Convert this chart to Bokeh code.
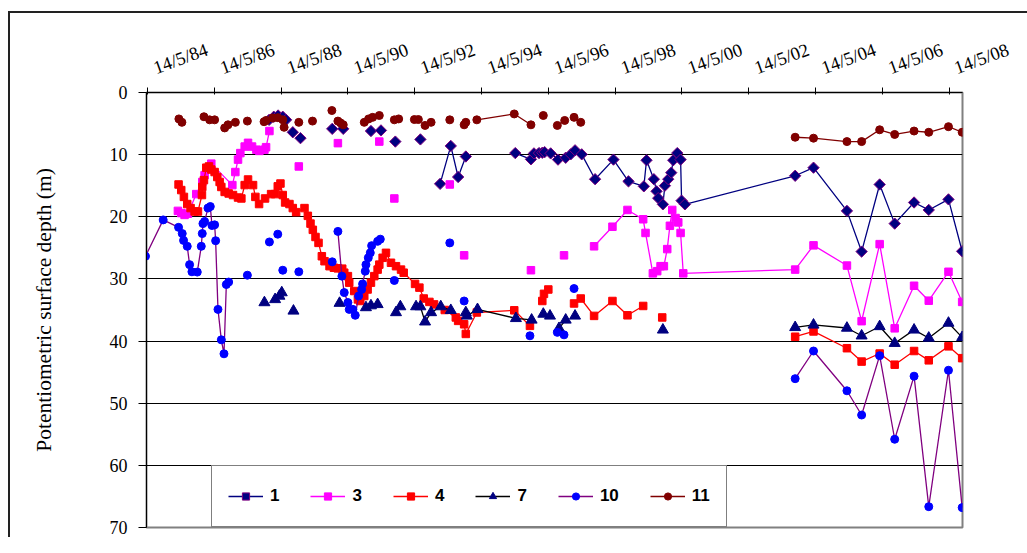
from bokeh.plotting import figure
from bokeh.models import Range1d, FixedTicker, Legend, LegendItem, LinearAxis
from bokeh.embed import file_html
from bokeh.resources import INLINE

NaN = float("nan")

# x values are decimal years; tick labels are the 14 May of even years
tick_years = [1984, 1986, 1988, 1990, 1992, 1994, 1996, 1998, 2000, 2002, 2004, 2006, 2008]
tick_labels = ["14/5/84", "14/5/86", "14/5/88", "14/5/90", "14/5/92", "14/5/94", "14/5/96",
               "14/5/98", "14/5/00", "14/5/02", "14/5/04", "14/5/06", "14/5/08"]
day_offset = 0.367  # 14 May as fraction of year

y_ticks = [0, 10, 20, 30, 40, 50, 60, 70]

late_dates = [2003.76, 2004.31, 2005.31, 2005.75, 2006.29, 2006.74, 2007.32, 2007.76, 2008.35, 2008.76]

# ---- series 1 ----
s1_x = [1988.01, 1988.15, 1988.28, 1988.42, 1988.52, NaN, 1988.72, NaN, 1988.95, NaN, 1989.90, NaN,
        1990.23, NaN, 1991.06, NaN, 1991.36, NaN, 1991.79, NaN, 1992.54, NaN,
        1993.13, 1993.45, 1993.67, 1993.90, NaN,
        1995.38, 1995.85, 1995.94, 1996.09, 1996.19, 1996.26, 1996.44, 1996.66, 1996.89, 1997.04,
        1997.17, 1997.37, 1997.77, 1998.32, 1998.77, 1999.23, 1999.31, 1999.53, 1999.61, 1999.66,
        1999.80, 1999.86, 1999.96, 2000.05, 2000.11, 2000.23, 2000.33, 2000.36, 2000.46] + late_dates
s1_y = [4.4, 3.9, 3.7, 3.9, 4.4, NaN, 6.4, NaN, 7.35, NaN, 5.85, NaN,
        5.85, NaN, 6.2, NaN, 6.1, NaN, 7.9, NaN, 7.55, NaN,
        14.7, 8.6, 13.6, 10.3, NaN,
        9.75, 10.75, 9.8, 9.75, 9.7, 9.6, 9.8, 10.8, 10.5, 9.95,
        9.3, 9.95, 13.95, 10.8, 14.3, 15.1, 10.9, 13.95, 15.9, 17.0,
        18.0, 15.0, 13.95, 12.9, 10.9, 9.75, 10.8, 17.4, 18.0] + \
       [13.4, 12.1, 19.05, 25.6, 14.8, 21.1, 17.7, 18.9, 17.2, 25.55]

# ---- series 3 ----
s3_x = [1985.28, 1985.38, 1985.48, 1985.58, 1985.83, 1986.01, 1986.08, 1986.16, 1986.28, 1986.91,
        1987.00, 1987.08, 1987.15, 1987.28, 1987.38, 1987.50, 1987.63, 1987.72, 1987.87, 1987.92,
        1988.02, NaN, 1988.90, NaN, 1990.07, NaN, 1991.31, NaN, 1991.76, NaN, 1993.42, NaN,
        1993.85, NaN, 1995.85, NaN, 1996.84, NaN,
        1997.74, 1998.29, 1998.74, 1999.21, 1999.28, 1999.50, 1999.63, 1999.73, 1999.83, 1999.93,
        2000.01, 2000.08, 2000.18, 2000.26, 2000.33, 2000.41] + late_dates
s3_y = [19.05, 19.4, 19.7, 19.5, 16.35, 14.4, 13.3, 12.25, 11.45, 14.9,
        12.8, 10.8, 9.75, 8.7, 8.1, 8.7, 9.2, 9.4, 9.2, 8.8,
        6.2, NaN, 11.9, NaN, 8.15, NaN, 7.9, NaN, 17.05, NaN, 14.8, NaN,
        26.2, NaN, 28.6, NaN, 26.2, NaN,
        24.75, 21.6, 18.9, 20.4, 22.6, 29.1, 28.75, 27.95, 27.95, 25.2,
        21.45, 18.9, 20.2, 20.9, 22.6, 29.1] + \
       [28.5, 24.6, 27.85, 36.8, 24.4, 37.95, 31.1, 33.5, 28.85, 33.7]

# ---- series 4 ----
s4_x = [1985.30, 1985.38, 1985.46, 1985.56, 1985.66, 1985.78, 1985.88, 1986.00, 1986.01, 1986.06,
        1986.13, 1986.21, 1986.28, 1986.38, 1986.46, 1986.53, 1986.58, 1986.68, 1986.80, 1986.93,
        1987.08, 1987.18, 1987.28, 1987.38, 1987.53, 1987.60, 1987.71, 1987.89, 1988.07, 1988.19,
        1988.27, 1988.35, 1988.42, 1988.49, 1988.62, 1988.72, 1988.82, 1989.07, 1989.17, 1989.25,
        1989.32, 1989.40, 1989.49, 1989.59, 1989.67, 1989.82, 1989.95, 1990.07, 1990.20, 1990.26,
        1990.37, 1990.41, 1990.56, 1990.67, 1990.74, 1990.86, 1990.96, 1991.06, 1991.16, 1991.26,
        1991.31, 1991.41, 1991.51, 1991.66, 1991.81, 1991.96, 1992.04, 1992.38, 1992.51, 1992.64,
        1992.81, 1992.95, 1993.27, 1993.60, 1993.67, 1993.85, 1993.90, 1994.23, 1995.35, 1995.82,
        NaN, 1996.19, 1996.24, 1996.37, NaN,
        1997.14, 1997.34, 1997.74, 1998.29, 1998.74, 1999.21, NaN, 1999.78, NaN] + late_dates
s4_y = [14.8, 15.7, 16.8, 17.95, 18.6, 19.15, 19.15, 16.5, 15.2, 14.1,
        12.1, 11.9, 12.4, 12.8, 13.6, 14.4, 15.2, 16.0, 16.25, 16.5,
        16.9, 17.05, 14.9, 14.0, 14.9, 16.8, 17.95, 17.05, 16.35, 16.35,
        15.1, 14.65, 16.5, 17.7, 17.95, 18.6, 19.25, 18.6, 19.85, 21.1,
        22.1, 23.25, 24.2, 26.35, 27.15, 27.95, 28.2, 28.3, 28.35, 29.0,
        29.55, 30.6, 31.95, 33.3, 33.55, 32.75, 31.7, 30.6, 29.55, 28.5,
        27.7, 26.6, 25.8, 27.4, 27.95, 28.5, 29.0, 30.8, 31.4, 33.15,
        33.7, 34.1, 35.0, 36.2, 36.75, 37.3, 38.85, 35.4, 35.05, 37.55,
        NaN, 33.55, 32.4, 31.7, NaN,
        33.95, 33.15, 35.95, 33.55, 35.85, 34.35, NaN, 36.2, NaN] + \
       [39.3, 38.45, 41.15, 43.3, 42.0, 43.8, 41.6, 43.1, 40.85, 42.75]

# ---- series 7 ----
s7_x = [1987.87, NaN, 1988.19, 1988.32, 1988.39, NaN, 1988.74, NaN, 1990.12, NaN,
        1990.91, 1991.06, 1991.26, NaN, 1991.81, 1991.94, NaN,
        1992.41, 1992.54, 1992.68, 1992.86, 1993.15, 1993.45, NaN,
        1993.90, 1993.93, 1994.25, 1995.40, 1995.87, NaN, 1996.22, 1996.42, NaN,
        1996.69, 1996.89, NaN, 1997.17, NaN, 1999.80, NaN] + late_dates
s7_y = [33.8, NaN, 33.3, 32.75, 32.2, NaN, 35.15, NaN, 33.9, NaN,
        34.6, 34.3, 34.1, NaN, 35.4, 34.45, NaN,
        34.45, 34.45, 36.9, 35.4, 34.45, 35.05, NaN,
        35.4, 35.95, 34.9, 36.35, 36.6, NaN, 35.65, 35.95, NaN,
        37.95, 36.6, NaN, 35.95, NaN, 38.2, NaN] + \
       [37.8, 37.4, 37.9, 39.15, 37.65, 40.35, 38.2, 39.5, 37.1, 39.4]

# ---- series 10 ----
s10_x = [1984.31, 1984.84, 1985.30, 1985.41, 1985.45, 1985.56, 1985.63, 1985.70, 1985.86, 1985.98,
         1986.01, 1986.03, 1986.08, 1986.18, 1986.25, 1986.30, 1986.38, 1986.41, 1986.48, 1986.58,
         1986.66, 1986.73, 1986.80, NaN, 1987.36, NaN, 1988.02, NaN, 1988.27, NaN, 1988.42, NaN,
         1988.90, NaN, 1989.90, NaN,
         1990.07, 1990.19, 1990.26, 1990.37, 1990.41, 1990.52, 1990.59, 1990.69, 1990.78, 1990.81,
         1990.89, 1990.91, 1990.98, 1991.04, 1991.08, 1991.26, 1991.34, NaN,
         1991.76, NaN, 1993.42, NaN, 1993.85, NaN, 1995.82, NaN, 1996.64, 1996.84, NaN,
         1997.14, NaN] + late_dates
s10_y = [26.35, 20.5, 21.7, 22.7, 23.8, 24.75, 27.7, 28.85, 28.9, 24.75,
         22.7, 21.1, 20.75, 18.6, 18.35, 21.4, 21.3, 23.85, 34.9, 39.8,
         42.05, 30.9, 30.5, NaN, 29.4, NaN, 24.05, NaN, 22.8, NaN, 28.6, NaN,
         28.85, NaN, 27.25, NaN,
         22.35, 29.55, 32.2, 33.8, 34.9, 34.9, 35.85, 32.75, 31.7, 30.8,
         28.75, 27.7, 26.6, 25.8, 24.65, 23.95, 23.6, NaN,
         30.25, NaN, 24.2, NaN, 33.55, NaN, 39.15, NaN, 38.6, 39.0, NaN,
         31.55, NaN] + \
        [46.05, 41.6, 48.0, 51.9, 42.35, 55.8, 45.65, 66.65, 44.7, 66.8]

# ---- series 11 ----
s11_x = [1985.31, 1985.40, NaN, 1986.06, NaN, 1986.23, 1986.38, NaN, 1986.68, 1986.78, NaN,
         1987.00, NaN, 1987.36, NaN, 1987.86, 1987.92, NaN, 1988.12, 1988.27, 1988.42, NaN,
         1988.46, NaN, 1988.90, NaN, 1989.31, NaN, 1989.89, NaN, 1990.07, 1990.15, 1990.23, NaN,
         1990.86, 1990.99, 1991.11, 1991.31, NaN, 1991.76, 1991.89, NaN, 1992.36, 1992.48, NaN,
         1992.68, 1992.86, NaN, 1993.42, NaN, 1993.85, 1993.90, NaN, 1994.23, 1995.35, 1995.85, NaN,
         1996.22, NaN, 1996.64, 1996.86, NaN, 1997.14, 1997.34, NaN] + late_dates
s11_y = [4.25, 4.8, NaN, 3.9, NaN, 4.4, 4.4, NaN, 5.7, 5.2, NaN,
         4.8, NaN, 4.6, NaN, 4.7, 4.5, NaN, 4.1, 4.05, 4.4, NaN,
         5.6, NaN, 4.8, NaN, 4.6, NaN, 2.9, NaN, 4.6, 4.9, 5.2, NaN,
         4.8, 4.25, 4.0, 3.7, NaN, 4.4, 4.25, NaN, 4.35, 4.35, NaN,
         5.3, 4.8, NaN, 4.4, NaN, 5.2, 4.8, NaN, 4.4, 3.45, 5.2, NaN,
         3.7, NaN, 5.3, 4.5, NaN, 4.0, 4.8, NaN] + \
        [7.2, 7.35, 7.9, 7.9, 6.0, 6.75, 6.2, 6.4, 5.5, 6.4]

tick_pos = [y + day_offset for y in tick_years]
label_shift = 0.2  # labels start slightly right of their tick
label_pos = [t + label_shift for t in tick_pos]

SERIF = "'Liberation Serif', 'Times New Roman', serif"
W, H = 1011, 537

p = figure(width=W, height=H, output_backend="svg", toolbar_location=None,
           x_axis_location="above",
           x_range=Range1d(1984.34, 2008.77), y_range=Range1d(70, 0),
           min_border_left=146, min_border_right=49, min_border_top=92, min_border_bottom=10)

# outer chart-area border: thin dark line along top and left (inset shadows behind a
# transparent canvas border), plus its continuation past the right edge of the figure
p.styles = {"box-shadow": ("inset 8px 11px 0 0 #ffffff, inset 10px 13px 0 0 #222222, "
                           "284px -256.5px 0 -267.5px #222222"),
            "background-color": "#ffffff"}

p.background_fill_color = "white"
p.border_fill_color = None
p.outline_line_color = "#808080"
p.outline_line_width = 2

p.xgrid.visible = False
p.ygrid.grid_line_color = "black"
p.ygrid.grid_line_width = 1

# tick marks axis (no labels)
xa = p.xaxis[0]
xa.ticker = FixedTicker(ticks=tick_pos)
xa.major_label_overrides = {t: "" for t in tick_pos}
xa.major_tick_out = 5
xa.major_tick_in = 2
xa.minor_tick_line_color = None
xa.axis_line_color = "black"
xa.major_tick_line_color = "black"
xa.major_label_standoff = 0

# label axis stacked above it
xl = LinearAxis(ticker=FixedTicker(ticks=label_pos),
                major_label_overrides=dict(zip(label_pos, tick_labels)),
                major_label_orientation=0.35,
                major_label_text_font=SERIF, major_label_text_font_size="18.5px",
                major_label_text_color="black", major_label_standoff=19,
                axis_line_color=None, major_tick_line_color=None, minor_tick_line_color=None,
                major_tick_out=0, major_tick_in=0)
p.add_layout(xl, "above")

ya = p.yaxis[0]
ya.ticker = FixedTicker(ticks=y_ticks)
ya.major_label_text_font = SERIF
ya.major_label_text_font_size = "18px"
ya.major_label_text_color = "black"
ya.major_tick_out = 8
ya.major_tick_in = 0
ya.minor_tick_line_color = None
ya.axis_line_color = "black"
ya.major_tick_line_color = "black"
ya.major_label_standoff = 11
ya.axis_label = "Potentiometric surface depth (m)"
ya.axis_label_text_font = SERIF
ya.axis_label_text_font_size = "21.5px"
ya.axis_label_text_font_style = "normal"
ya.axis_label_text_color = "black"
ya.axis_label_standoff = 51

items = []

def add_series(label, xs, ys, line_color, marker, size, fill, edge, angle=0.0):
    ln = p.line(xs, ys, line_color=line_color, line_width=1.3)
    sc = p.scatter(xs, ys, marker=marker, size=size, angle=angle,
                   fill_color=fill, line_color=edge, line_width=1)
    items.append(LegendItem(label=label, renderers=[ln, sc]))

add_series("1", s1_x, s1_y, "#000080", "square", 8, "#000080", "#800080", angle=0.785398)
add_series("3", s3_x, s3_y, "#FF00FF", "square", 7.5, "#FF00FF", "#FF00FF")
add_series("4", s4_x, s4_y, "#FF0000", "square", 7.5, "#FF0000", "#FF0000")
add_series("7", s7_x, s7_y, "#000000", "triangle", 11, "#000080", "#000080")
add_series("10", s10_x, s10_y, "#800080", "circle", 8, "#0000FF", "#0000FF")
add_series("11", s11_x, s11_y, "#800000", "circle", 8, "#800000", "#800000")

legend = Legend(items=items, orientation="horizontal", location=(65, 0),
                label_text_font="Liberation Sans", label_text_font_style="bold",
                label_text_font_size="17px", label_text_color="black",
                glyph_width=35, glyph_height=18, label_standoff=7, spacing=31,
                padding=16, margin=0, label_width=0, label_height=28,
                border_line_color="black", border_line_width=1,
                background_fill_color="white", background_fill_alpha=1)
p.add_layout(legend)

open("out.html", "w").write(file_html(p, INLINE))
